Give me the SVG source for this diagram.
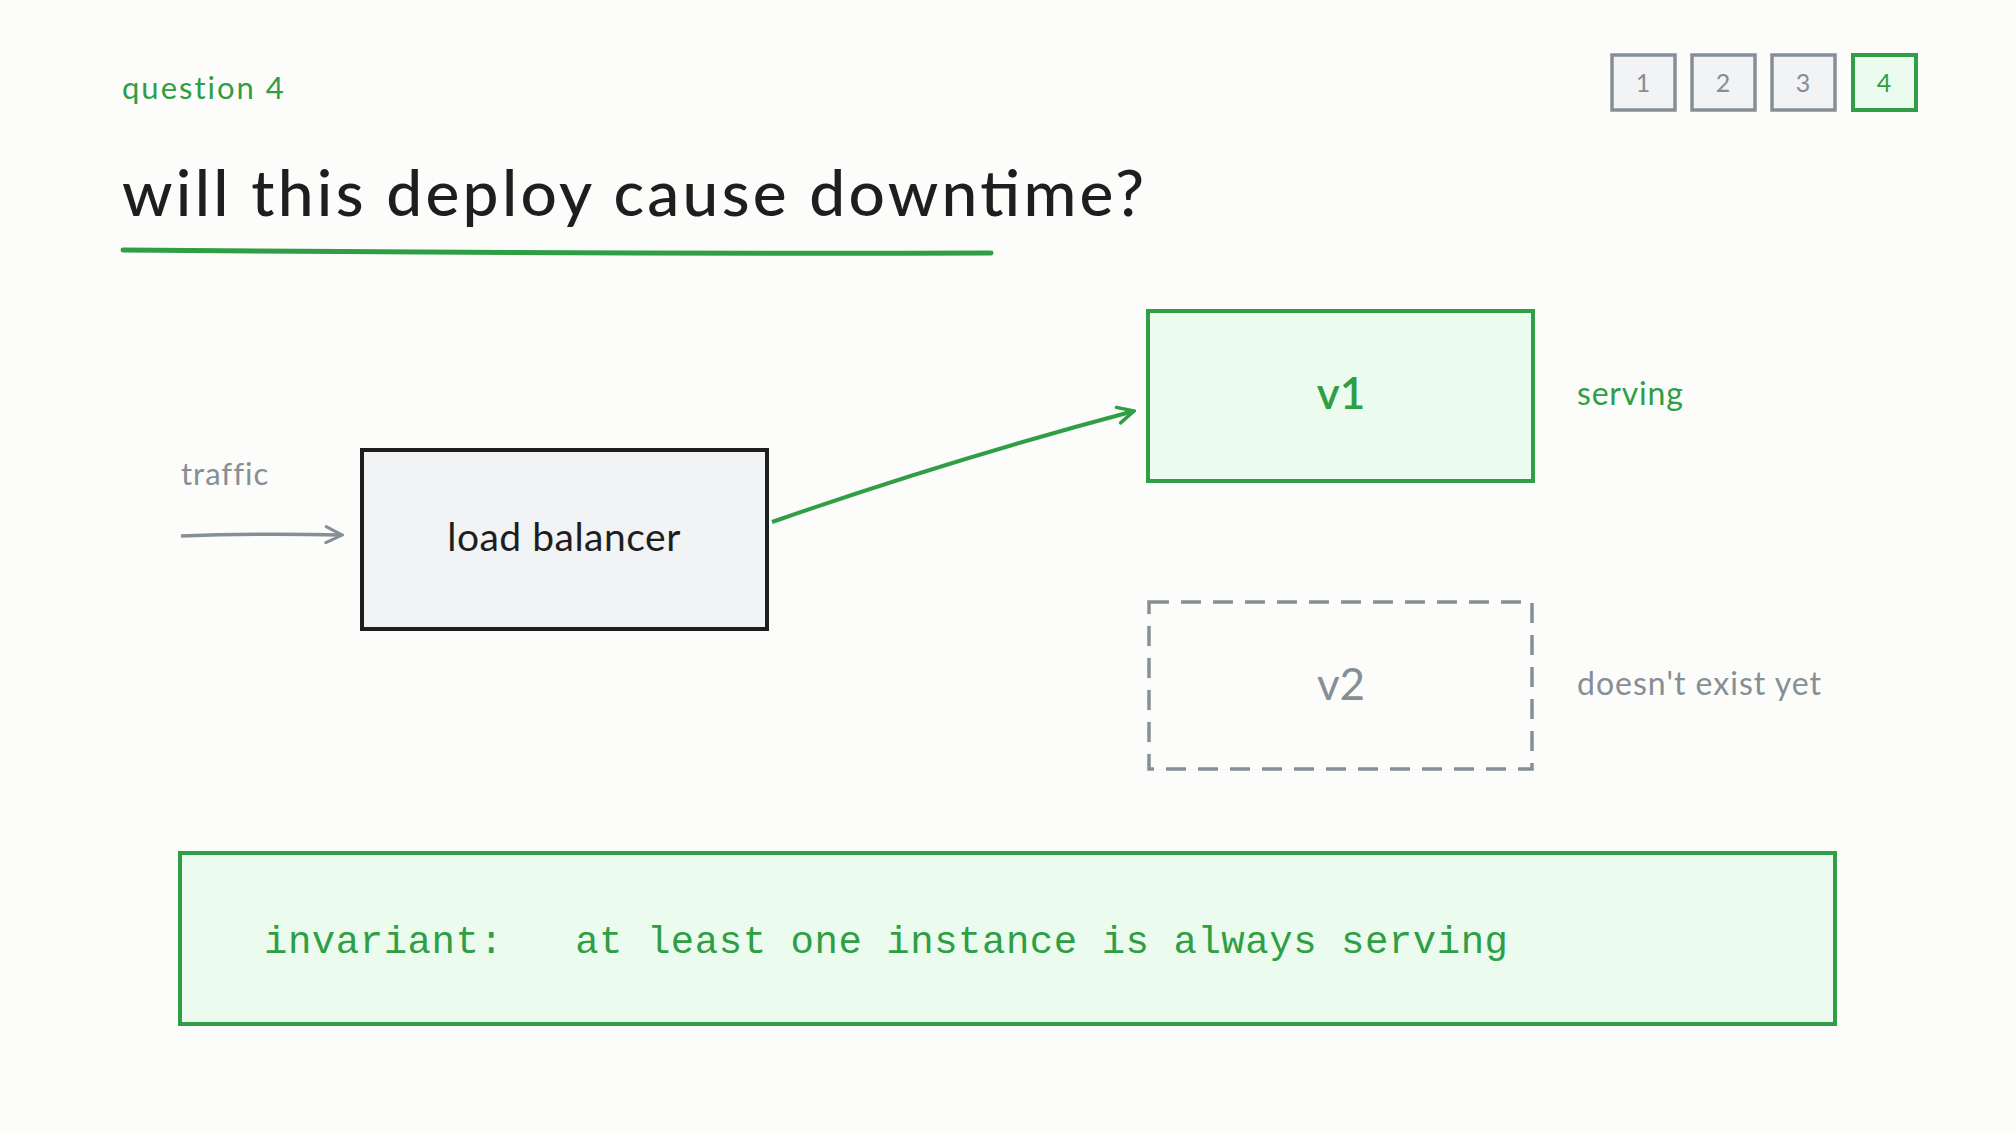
<svg xmlns="http://www.w3.org/2000/svg" width="2016" height="1134" viewBox="0 0 2016 1134">
<style>
.t{font-family:Lato,"Noto Sans",sans-serif}
.g{fill:#2f9e44}.k{fill:#1e1e1e}.m{fill:#868e96}
.gb{fill:#ebfbee;stroke:#2f9e44;stroke-width:4}
.kb{fill:#f1f3f5;stroke:#1e1e1e;stroke-width:4}
.pb{fill:#f1f3f5;stroke:#868e96;stroke-width:3.5}
</style>
<defs>
<marker id="ag" viewBox="0 0 20 20" refX="18" refY="10" markerWidth="20" markerHeight="20" markerUnits="userSpaceOnUse" orient="auto"><path d="M2 2L18 10L2 18" fill="none" stroke="#2f9e44" stroke-width="3.5" stroke-linecap="round"/></marker>
<marker id="am" viewBox="0 0 20 20" refX="18" refY="10" markerWidth="20" markerHeight="20" markerUnits="userSpaceOnUse" orient="auto"><path d="M2 2L18 10L2 18" fill="none" stroke="#868e96" stroke-width="3" stroke-linecap="round"/></marker>
</defs>
<rect width="2016" height="1134" fill="#fcfcfb"/>
<text class="t g" x="122" y="99" font-size="31" letter-spacing="2">question 4</text>
<text class="t k" x="122" y="216" font-size="64" font-weight="500" textLength="1022">will this deploy cause downtime?</text>
<path d="M123 250Q560 254 991 253" stroke="#2f9e44" stroke-width="5" fill="none" stroke-linecap="round"/>
<g id="pages">
<rect class="pb" x="1612" y="55" width="63" height="55"/><text class="t m" x="1643" y="92" font-size="25" text-anchor="middle">1</text>
<rect class="pb" x="1692" y="55" width="63" height="55"/><text class="t m" x="1723" y="92" font-size="25" text-anchor="middle">2</text>
<rect class="pb" x="1772" y="55" width="63" height="55"/><text class="t m" x="1803" y="92" font-size="25" text-anchor="middle">3</text>
<rect class="gb" x="1853" y="55" width="63" height="55"/><text class="t g" x="1884" y="92" font-size="25" text-anchor="middle">4</text>
</g>
<g id="connectors">
<path d="M181 536Q260 533 342 535" stroke="#868e96" stroke-width="3.5" fill="none" marker-end="url(#am)"/>
<path d="M772 522Q950 460 1134 411" stroke="#2f9e44" stroke-width="4" fill="none" marker-end="url(#ag)"/>
</g>
<text class="t m" x="181" y="485" font-size="31" letter-spacing="1">traffic</text>
<g id="lb"><rect class="kb" x="362" y="450" width="405" height="179"/><text class="t k" x="564" y="551" font-size="39" text-anchor="middle" letter-spacing="0.5">load balancer</text></g>
<g id="v1"><rect class="gb" x="1148" y="311" width="385" height="170"/><text class="t g" x="1341" y="409" font-size="44" font-weight="600" text-anchor="middle">v1</text></g>
<text class="t g" x="1577" y="405" font-size="32" letter-spacing="0.8">serving</text>
<g id="v2"><rect x="1149" y="602" width="383" height="167" fill="none" stroke="#868e96" stroke-width="3.5" stroke-dasharray="20 12"/><text class="t m" x="1341" y="700" font-size="44" text-anchor="middle">v2</text></g>
<text class="t m" x="1577" y="695" font-size="32" textLength="244">doesn't exist yet</text>
<g id="invariant"><rect class="gb" x="180" y="853" width="1655" height="171"/><text x="264" y="953" font-size="39" fill="#2f9e44" font-family="'Liberation Mono',monospace" xml:space="preserve" textLength="1244">invariant:   at least one instance is always serving</text></g>
</svg>
